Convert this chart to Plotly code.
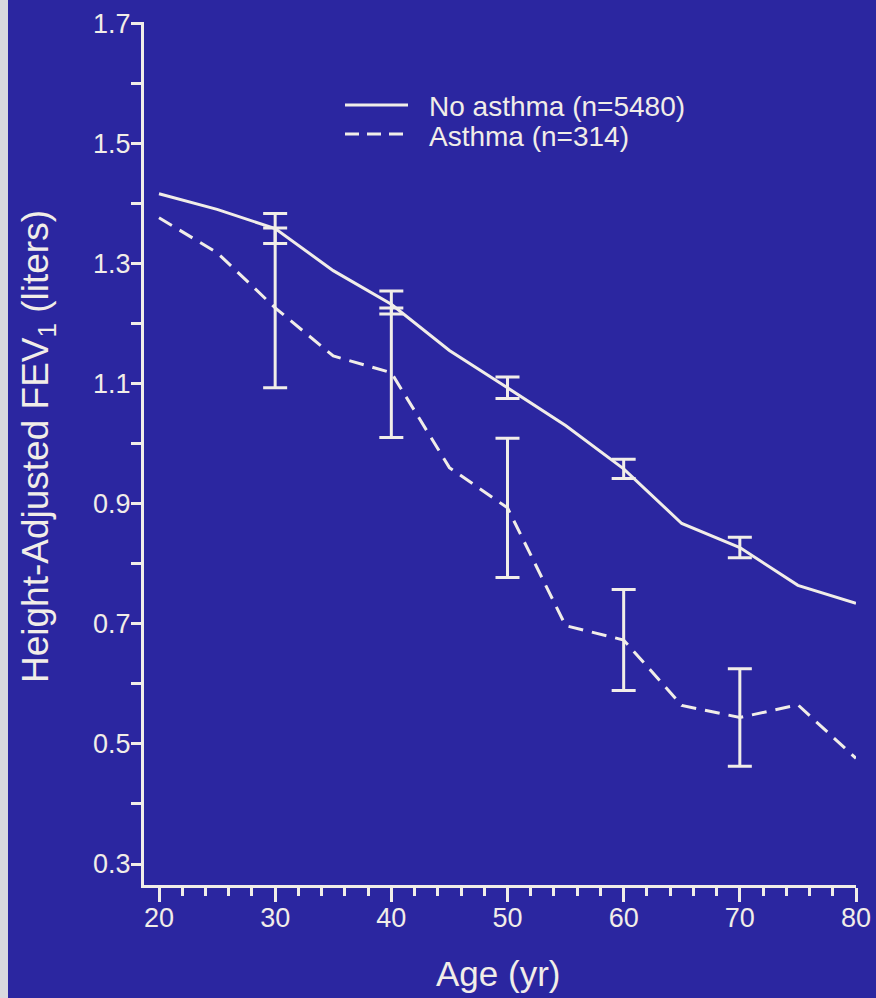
import plotly.graph_objects as go

# ---------------- data ----------------
ages = [20, 25, 30, 35, 40, 45, 50, 55, 60, 65, 70, 75, 80]
no_asthma = [1.416, 1.390, 1.358, 1.288, 1.232, 1.155, 1.093, 1.030, 0.958, 0.867, 0.827, 0.764, 0.734]
asthma = [1.376, 1.318, 1.226, 1.146, 1.118, 0.960, 0.893, 0.697, 0.673, 0.564, 0.544, 0.565, 0.476]

err_ages = [30, 40, 50, 60, 70]
no_asthma_err_mean = [1.358, 1.235, 1.093, 0.958, 0.827]
no_asthma_err = [0.025, 0.019, 0.018, 0.016, 0.017]
asthma_err_mean = [1.226, 1.118, 0.893, 0.673, 0.544]
asthma_err = [0.133, 0.108, 0.116, 0.084, 0.081]

y_tick_vals = [0.3, 0.5, 0.7, 0.9, 1.1, 1.3, 1.5, 1.7]
y_tick_text = ["0.3", "0.5", "0.7", "0.9", "1.1", "1.3", "1.5", "1.7"]
y_minor_vals = [0.4, 0.6, 0.8, 1.0, 1.2, 1.4, 1.6]
x_tick_vals = [20, 30, 40, 50, 60, 70, 80]
x_tick_text = ["20", "30", "40", "50", "60", "70", "80"]

legend_labels = ["No asthma (n=5480)", "Asthma (n=314)"]

# ---------------- style ----------------
BG = "#2b26a0"
FG = "#f1ede8"
FONT = "Liberation Sans, Arial, sans-serif"
W, H = 876, 998
L, R, T, B = 144, 856, 22, 885  # plot area in px


def px2paper(px, py):
    return (px - L) / (R - L), (B - py) / (B - T)


fig = go.Figure()

fig.add_trace(go.Scatter(x=ages, y=no_asthma, mode="lines",
                         line=dict(color=FG, width=3), showlegend=False,
                         hoverinfo="skip"))
fig.add_trace(go.Scatter(x=ages, y=asthma, mode="lines",
                         line=dict(color=FG, width=3, dash="15px,9px"),
                         showlegend=False, hoverinfo="skip"))

for means, errs in [(no_asthma_err_mean, no_asthma_err), (asthma_err_mean, asthma_err)]:
    fig.add_trace(go.Scatter(
        x=err_ages, y=means, mode="markers",
        marker=dict(size=1, color="rgba(0,0,0,0)"),
        error_y=dict(type="data", array=errs, visible=True, color=FG,
                     thickness=3, width=12),
        showlegend=False, hoverinfo="skip"))

# manual legend
shapes = []
annotations = []
for i, (label, dash) in enumerate(zip(legend_labels, ["solid", "dash"])):
    py = 105 + 29 * i
    x0, y0 = px2paper(345, py)
    x1, _ = px2paper(408, py)
    shapes.append(dict(type="line", xref="paper", yref="paper",
                       x0=x0, x1=x1, y0=y0, y1=y0,
                       line=dict(color=FG, width=3,
                                 dash="solid" if dash == "solid" else "14px,8px")))
    tx, ty = px2paper(427, py + 2)
    annotations.append(dict(xref="paper", yref="paper", x=tx, y=ty,
                            xanchor="left", yanchor="middle", showarrow=False,
                            text=label, font=dict(family=FONT, size=28, color=FG)))

# left light strip of the slide
sx0, _ = px2paper(0, 0)
sx1, _ = px2paper(8, 0)
shapes.append(dict(type="rect", xref="paper", yref="paper", x0=sx0, x1=sx1,
                   y0=-0.2, y1=1.1, fillcolor="#d9d9de", line=dict(width=0),
                   layer="below"))

# axis titles as annotations
ax, ay = px2paper(498, 973)
annotations.append(dict(xref="paper", yref="paper", x=ax, y=ay,
                        xanchor="center", yanchor="middle", showarrow=False,
                        text="Age (yr)", font=dict(family=FONT, size=35, color=FG)))
ax, ay = px2paper(38, 447)
annotations.append(dict(xref="paper", yref="paper", x=ax, y=ay,
                        xanchor="center", yanchor="middle", showarrow=False,
                        textangle=-90,
                        text="Height-Adjusted FEV<sub>1</sub> (liters)",
                        font=dict(family=FONT, size=37, color=FG)))

x_lo = 20 - (159 - L) / 11.62
y_lo = 0.3 - (B - 864) / 601.4

fig.update_layout(
    width=W, height=H,
    margin=dict(l=L, r=W - R, t=T, b=H - B, pad=0, autoexpand=False),
    paper_bgcolor=BG, plot_bgcolor=BG,
    shapes=shapes, annotations=annotations,
    xaxis=dict(range=[x_lo, 80], showgrid=False, zeroline=False, automargin=False,
               showline=True, linecolor=FG, linewidth=3,
               tickmode="array", tickvals=x_tick_vals, ticktext=x_tick_text,
               ticks="outside", ticklen=14, tickwidth=3, tickcolor=FG,
               ticklabelstandoff=-7,
               tickfont=dict(family=FONT, size=27, color=FG),
               minor=dict(tickmode="linear", tick0=20, dtick=2, ticks="outside",
                          ticklen=8, tickwidth=3, tickcolor=FG, showgrid=False)),
    yaxis=dict(range=[y_lo, 1.702], showgrid=False, zeroline=False, automargin=False,
               showline=True, linecolor=FG, linewidth=3,
               tickmode="array", tickvals=y_tick_vals, ticktext=y_tick_text,
               ticks="outside", ticklen=10, tickwidth=3, tickcolor=FG,
               ticklabelstandoff=-5,
               tickfont=dict(family=FONT, size=27, color=FG),
               minor=dict(tickmode="array", tickvals=y_minor_vals, ticks="outside",
                          ticklen=10, tickwidth=3, tickcolor=FG, showgrid=False)),
)

fig.write_html("out.html", config={"displayModeBar": False},
               post_script="document.body.style.margin='0';")
